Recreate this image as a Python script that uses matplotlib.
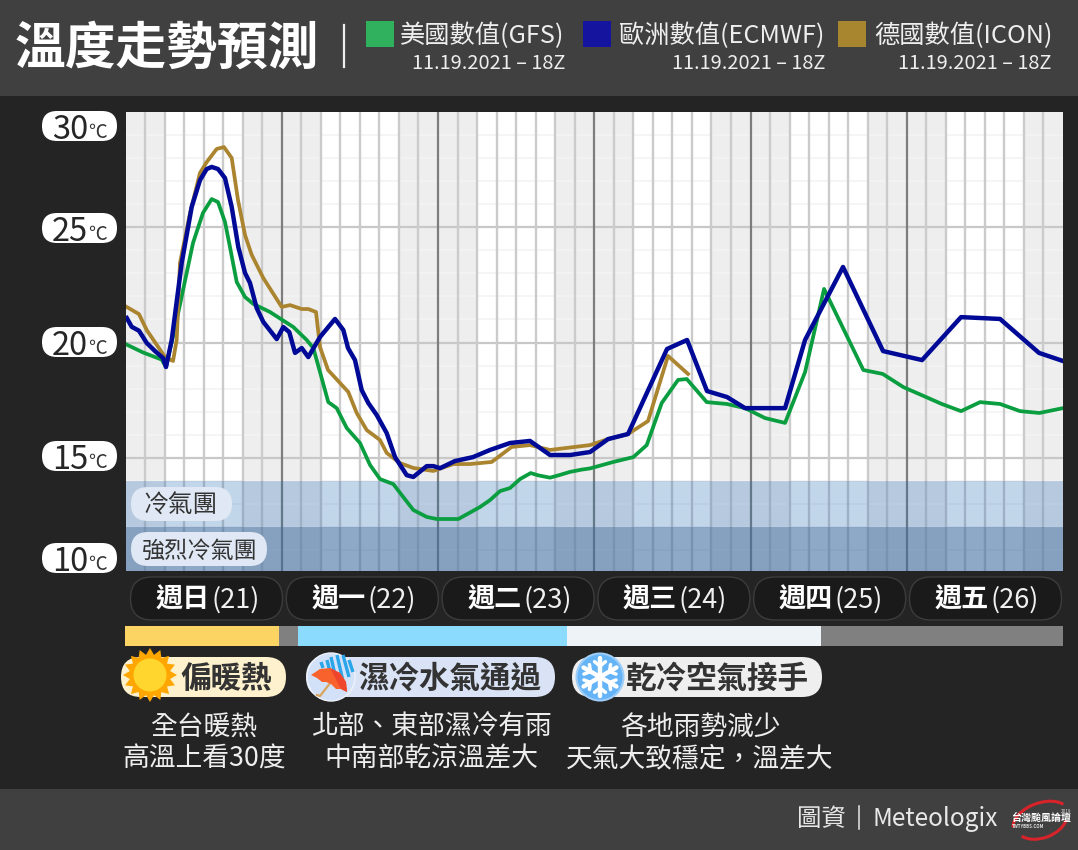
import numpy as np
import matplotlib
matplotlib.use('Agg')
import matplotlib.pyplot as plt
from matplotlib.patches import FancyBboxPatch, Rectangle, Circle, Polygon, Arc

plt.rcParams['font.family'] = ['Noto Sans CJK TC', 'DejaVu Sans']

W, H = 1078, 850

# forecast hours since 00 LT Sunday, temperature in deg C
ecmwf_h = [0.2, 0.95, 2.07, 3.26, 4.53, 5.76, 6.22, 7.1, 8.63, 10.17, 11.44, 12.47, 13.24, 14.21, 15.28,
           16.31, 17.33, 18.36, 19.12, 20.15, 21.17, 23.23, 24.24, 25.16, 26.04, 27.07, 28.08, 29.88,
           32.18, 33.46, 34.18, 35.25, 36.28, 37.3, 38.59, 40.12, 41.4, 43.19, 44.21, 46.27, 47.29,
           48.31, 50.61, 53.38, 55.99, 59.06, 62.13, 65.21, 68.28, 71.35, 74.12, 77.19, 83.18, 86.26,
           89.32, 92.4, 95.16, 99, 101.31, 104.38, 110.21, 116.36, 122.35, 128.34, 134.33, 140.32, 144]
ecmwf_t = [21.06, 20.68, 20.51, 19.98, 19.63, 19.33, 18.94, 20.11, 23.44, 25.87, 27.03, 27.51, 27.6, 27.51, 27.12,
           25.87, 24.13, 23.01, 22.58, 21.49, 20.89, 20.15, 20.67, 20.45, 19.55, 19.76, 19.37, 20.24,
           21.02, 20.54, 19.76, 19.24, 17.94, 17.38, 16.86, 16.08, 15.04, 14.26, 14.18, 14.65, 14.65,
           14.56, 14.87, 15.04, 15.35, 15.65, 15.74, 15.13, 15.13, 15.26, 15.82, 16.04, 19.72, 20.11,
           17.9, 17.64, 17.16, 17.16, 17.16, 20.11, 23.27, 19.63, 19.24, 21.1, 21.02, 19.55, 19.2]

icon_h = [0.18, 2.07, 3.26, 6.07, 7.3, 7.86, 8.37, 9.91, 11.44, 12.47, 14.01, 15.13, 16.31, 17.28, 18.36,
          19.39, 21.17, 23.99, 25.27, 27.07, 28.08, 29.26, 29.88, 31.11, 34.22, 35.51, 37.05, 39.09,
          40.12, 42.17, 44.21, 47.28, 50.35, 52.92, 56.25, 59.32, 62.13, 65.21, 71.35, 74.12, 77.19,
          80.26, 83.33, 86.4]
icon_t = [21.54, 21.23, 20.54, 19.37, 19.2, 20.11, 23.44, 25.6, 27.34, 27.81, 28.38, 28.46, 27.99, 26.17, 24.65,
          23.79, 22.79, 21.54, 21.62, 21.45, 21.45, 21.32, 19.8, 18.81, 17.86, 16.95, 16.21, 15.78,
          15.22, 14.78, 14.57, 14.44, 14.74, 14.74, 14.83, 15.48, 15.56, 15.35, 15.56, 15.82, 16.04,
          16.6, 19.42, 18.64]

gfs_h = [0.18, 2.69, 5.56, 6.22, 7.86, 10.37, 11.9, 13.24, 14.21, 15.28, 16.05, 17.08, 18.36, 19.63, 22.2,
         25.78, 27.83, 28.85, 29.88, 31.15, 32.44, 33.98, 36.02, 37.56, 39.09, 41.14, 42.67, 44.21,
         46.27, 47.8, 51.12, 54.45, 55.99, 57.53, 59.06, 60.6, 62.24, 63.4, 65.21, 66.5, 68.28, 70.1, 71.35,
         74.93, 78, 80.06, 82.36, 84.87, 86.21, 89.28, 92.35, 95.16, 98.23, 101.31, 104.38, 107.3, 113.33,
         116.31, 119.48, 125.38, 128.34, 131.26, 134.33, 137.4, 140.37, 144]
gfs_t = [19.91, 19.57, 19.26, 18.94, 20.97, 24.31, 25.61, 26.21, 26.08, 25.22, 24.13, 22.62, 21.97, 21.67, 21.32,
         20.67, 20.11, 19.76, 18.72, 17.42, 17.16, 16.3, 15.65, 14.7, 14.09, 13.87, 13.31, 12.75,
         12.45, 12.36, 12.36, 12.88, 13.18, 13.57, 13.7, 14.09, 14.35, 14.25, 14.15, 14.25, 14.4, 14.5, 14.55,
         14.83, 15.04, 15.56, 17.38, 18.38, 18.42, 17.42, 17.34, 17.16, 16.73, 16.52, 18.72, 22.32, 18.81,
         18.64, 18.07, 17.34, 17.03, 17.42, 17.34, 17.03, 16.95, 17.16]

model_names = ['美國數值(GFS)', '歐洲數值(ECMWF)', '德國數值(ICON)']
run_label = '11.19.2021 – 18Z'
day_names = ['週日', '週一', '週二', '週三', '週四', '週五']
day_nums = ['(21)', '(22)', '(23)', '(24)', '(25)', '(26)']
temp_labels = ['30', '25', '20', '15', '10']

# weather regime strip: start hour, end hour, colour
regime_start = [0, 23.7, 26.5, 67.8, 106.8]
regime_end = [23.7, 26.5, 67.8, 106.8, 144]
regime_colors = ['#fcd464', '#808080', '#8adbfd', '#eef3f8', '#808080']

BG = '#242424'
BAR = '#404040'
DARK = '#333333'


def frac_x(px):
    return px / W


def frac_y(px):
    return 1 - px / H


fig = plt.figure(figsize=(W / 100, H / 100), dpi=100, facecolor=BG)

# main temperature panel
x0, x1, y0, y1 = 125.5, 1063, 111.5, 571
ax = fig.add_axes([frac_x(x0), frac_y(y1), frac_x(x1 - x0), (y1 - y0) / H], zorder=2)
ax.set_xlim(0, 144)
ax.set_ylim(10.11, 30)
ax.axis('off')

# night shading, 18 LT to 06 LT
ax.add_patch(Rectangle((0, 0), 144, 40, fc='white', ec='none', zorder=0))
for d in range(6):
    ax.axvspan(24 * d, 24 * d + 6, color='#eeeeee', lw=0, zorder=0.5)
    ax.axvspan(24 * d + 18, 24 * d + 24, color='#eeeeee', lw=0, zorder=0.5)

ax.hlines(np.arange(11, 30), 0, 144, color='#f3f3f3', lw=1.2, zorder=1)
ax.hlines([15, 20, 25], 0, 144, color='#c8c8c8', lw=1.6, zorder=1.2)
for h in range(3, 144, 3):
    if h % 24 == 0:
        ax.vlines(h, 0, 40, color='#7d7d7d', lw=1.6, zorder=1.4)
    else:
        ax.vlines(h, 0, 40, color='#cbcbcb', lw=1.7, zorder=1.3)

ax.axhspan(12, 14, color='#266cb5', alpha=0.28, lw=0, zorder=1.5)
ax.axhspan(0, 12, color='#3c69a0', alpha=0.58, lw=0, zorder=1.5)

ax.plot(gfs_h, gfs_t, color='#0a9e40', lw=2.7, zorder=3, solid_joinstyle='round')
ax.plot(icon_h, icon_t, color='#aa842f', lw=2.7, zorder=4, solid_joinstyle='round')
ax.plot(ecmwf_h, ecmwf_t, color='#000a96', lw=3.2, zorder=5, solid_joinstyle='round')

# regime strip shares the panel's hour scale
strip = fig.add_axes([frac_x(x0 - 0.5), frac_y(646), frac_x(x1 - x0 + 0.5), 20 / H], zorder=2)
strip.set_xlim(0, 144)
strip.set_ylim(0, 1)
strip.axis('off')
for s, e, c in zip(regime_start, regime_end, regime_colors):
    strip.barh(0.5, e - s, left=s, height=1, color=c, lw=0)

# everything else is laid out in pixels on a full-figure layer
top = fig.add_axes([0, 0, 1, 1], zorder=3)
top.set_xlim(0, W)
top.set_ylim(H, 0)
top.axis('off')
top.patch.set_alpha(0)


def pill(x, y, w, h, fc, ec='none', lw=0, z=2):
    top.add_patch(FancyBboxPatch((x, y), w, h, boxstyle='round,pad=0,rounding_size=%f' % (h / 2),
                                 fc=fc, ec=ec, lw=lw, zorder=z))


top.add_patch(Rectangle((0, 0), W, 96, fc=BAR, ec='none', zorder=1))
top.add_patch(Rectangle((0, 789), W, 61, fc=BAR, ec='none', zorder=1))

top.text(15, 49, '溫度走勢預測', color='white', fontsize=36.5, fontweight='bold', va='center', ha='left', zorder=3)
top.plot([344, 344], [25, 67], color='#eeeeee', lw=1.6, zorder=3)

swatch_x = [366, 583, 838]
swatch_c = ['#2fb15d', '#14149f', '#a8852f']
name_x = [400, 619, 874]
run_x = [566, 825, 1052]
for i in range(3):
    top.add_patch(Rectangle((swatch_x[i], 21), 28, 26, fc=swatch_c[i], ec='none', zorder=3))
    top.text(name_x[i], 35.5, model_names[i], color='#eeeeee', fontsize=18.2, va='center', ha='left', zorder=3)
    top.text(run_x[i], 63, run_label, color='#eeeeee', fontsize=14.4, va='center', ha='right', zorder=3)

# temperature pills on the left
pill_y = [126, 228, 342, 456, 558]
for lab, py in zip(temp_labels, pill_y):
    pill(42, py - 15, 75, 30, '#ffffff')
    top.text(88, py + 4, lab, color='#262626', fontsize=23.5, fontweight='medium', ha='right', va='center', zorder=3)
    top.text(88, py + 6, '℃', color='#333333', fontsize=13.5, ha='left', va='center', zorder=3)

# cold air labels
pill(131, 487, 101, 34, '#dfe8f4')
top.text(181, 506, '冷氣團', color=DARK, fontsize=17.8, ha='center', va='center', zorder=3)
pill(131, 532, 136, 34, '#dfe8f4')
top.text(200, 551, '強烈冷氣團', color=DARK, fontsize=16.7, ha='center', va='center', zorder=3)

# day buttons
for i in range(6):
    cx = 206.5 + 155.8 * i
    pill(cx - 76, 577, 152, 43, '#1a1a1a', ec='#3c3c3c', lw=1)
    top.text(cx - 51, 600, day_names[i], color='white', fontsize=19.5, fontweight='bold', ha='left', va='center', zorder=3)
    top.text(cx + 5, 600, day_nums[i], color='#f0f0f0', fontsize=19.5, fontweight='light', ha='left', va='center', zorder=3)

# regime badges
pill(121, 657, 165, 40, '#fef1cd')
pill(306, 657, 249, 40, '#d9e3f5')
pill(572, 657, 250, 40, '#efefef')
top.text(226, 679, '偏暖熱', color=DARK, fontsize=22, fontweight='bold', ha='center', va='center', zorder=3)
top.text(450, 679, '濕冷水氣通過', color=DARK, fontsize=22, fontweight='bold', ha='center', va='center', zorder=3)
top.text(717, 679, '乾冷空氣接手', color=DARK, fontsize=22, fontweight='bold', ha='center', va='center', zorder=3)

# sun icon
ang = np.linspace(0, 2 * np.pi, 33)[:-1]
rad = np.where(np.arange(32) % 2 == 0, 27, 20.5)
top.add_patch(Polygon(np.c_[150 + rad * np.cos(ang), 675 + rad * np.sin(ang)], fc='#ffa600', ec='none', zorder=3))
top.add_patch(Circle((150, 675), 16.5, fc='#ffd62e', ec='none', zorder=4))

# umbrella icon
top.add_patch(Circle((331, 677), 24, fc='#d3e1f8', ec='#eef3fb', lw=1, zorder=3))
for xa, ya, xb, yb in [(331, 657, 337, 684), (337, 655, 343, 681), (343, 655, 349, 677), (349, 660, 353, 672),
                       (327, 660, 330, 672), (321, 662, 323, 668)]:
    top.plot([xa, xb], [ya, yb], color='#2aa5ea', lw=2.4, zorder=4, solid_capstyle='butt')
top.plot([331, 320, 317], [682, 696, 695], color='#d9a45c', lw=1.6, zorder=4)
top.add_patch(Polygon([(311, 675), (320, 669), (330, 668), (340, 673), (346, 682), (347, 692), (341, 689), (336, 689),
                       (331, 684), (326, 682), (322, 682), (317, 678)], fc='#f8622c', ec='none', zorder=5))
top.add_patch(Polygon([(330, 668), (340, 673), (346, 682), (347, 692), (341, 689)], fc='#f0452d', ec='none', zorder=5))

# snowflake icon
top.add_patch(Circle((600, 677), 23.5, fc='#64b4f7', ec='#9ecdf8', lw=1.5, zorder=3))
for a in np.deg2rad(np.arange(30, 360, 60)):
    ux, uy = np.cos(a), np.sin(a)
    top.plot([600, 600 + 19 * ux], [677, 677 + 19 * uy], color='white', lw=3.2, zorder=4, solid_capstyle='round')
    for s in (-0.9, 0.9):
        bx = np.cos(a + s)
        by = np.sin(a + s)
        top.plot([600 + 11 * ux, 600 + 11 * ux + 7 * bx], [677 + 11 * uy, 677 + 11 * uy + 7 * by],
                 color='white', lw=2.5, zorder=4, solid_capstyle='round')

# regime descriptions
for cx, line1, line2 in [(204, '全台暖熱', '高溫上看30度'),
                         (431, '北部、東部濕冷有雨', '中南部乾涼溫差大'),
                         (700, '各地雨勢減少', '天氣大致穩定，溫差大')]:
    top.text(cx, 727, line1, color='#eeeeee', fontsize=19.3, ha='center', va='center', zorder=3)
    top.text(cx, 759, line2, color='#eeeeee', fontsize=19.3, ha='center', va='center', zorder=3)

# footer credit and logo
top.text(797, 819, '圖資', color='#e8e8e8', fontsize=17.6, ha='left', va='center', zorder=3)
top.plot([859, 859], [806, 829], color='#e8e8e8', lw=1.1, zorder=3)
top.text(998, 819, 'Meteologix', color='#e8e8e8', fontsize=17.6, fontweight='light', ha='right', va='center', zorder=3)
top.add_patch(Arc((1041, 820), 58, 34, angle=-20, theta1=185, theta2=345, color='#d8232a', lw=2.2, zorder=3))
top.add_patch(Arc((1041, 820), 54, 36, angle=-20, theta1=20, theta2=160, color='#d8232a', lw=2.2, zorder=3))
top.text(1041, 818, '台灣颱風論壇', color='white', fontsize=7.2, fontweight='bold', ha='center', va='center', zorder=4)
top.text(1028, 826, 'TWTYBBS.COM', color='#dddddd', fontsize=3.2, fontweight='bold', ha='center', va='center', zorder=4)
top.text(1066, 811.5, '2019', color='#dddddd', fontsize=3.4, ha='center', va='center', zorder=4)

fig.savefig('out.png', dpi=100, facecolor=BG)
